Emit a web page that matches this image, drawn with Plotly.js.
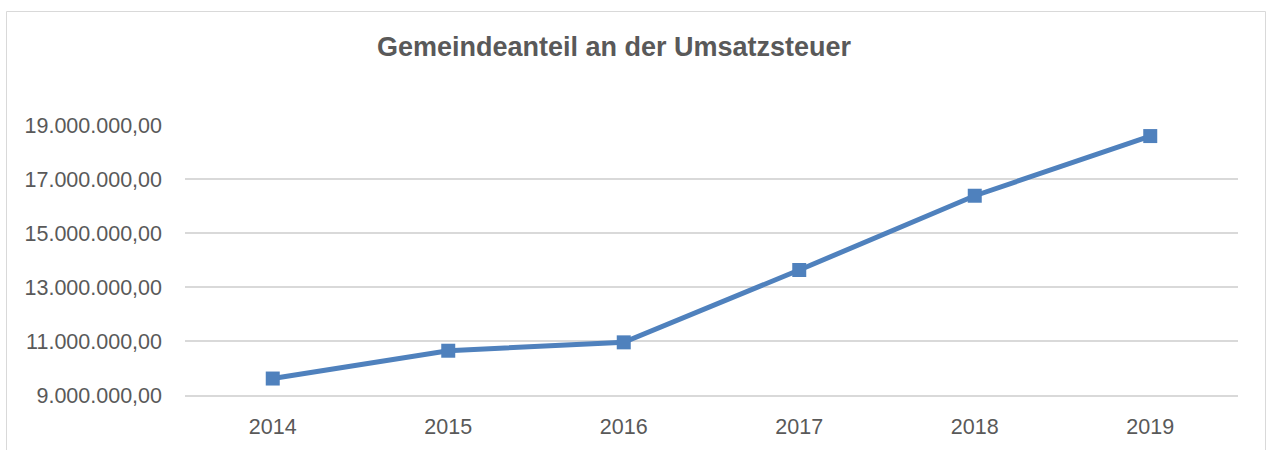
<!DOCTYPE html>
<html>
<head>
<meta charset="utf-8">
<script src="https://cdn.plot.ly/plotly-3.0.1.min.js"></script>
<style>
  html, body { margin: 0; padding: 0; background: #ffffff; }
  #chart { width: 1267px; height: 450px; }
</style>
</head>
<body>
<div id="chart"></div>
<script>
const years = ["2014", "2015", "2016", "2017", "2018", "2019"];
const values = [9610000, 10640000, 10950000, 13630000, 16380000, 18590000];
const yTicks = [9000000, 11000000, 13000000, 15000000, 17000000, 19000000];
const chartTitle = "Gemeindeanteil an der Umsatzsteuer";

const trace = {
  x: years,
  y: values,
  type: "scatter",
  mode: "lines+markers",
  line: { color: "#4f81bd", width: 5 },
  marker: { symbol: "square", size: 14, color: "#4f81bd" },
  hoverinfo: "x+y"
};

const layout = {
  width: 1267,
  height: 450,
  margin: { l: 185, r: 29, t: 125, b: 55, pad: 0 },
  paper_bgcolor: "#ffffff",
  plot_bgcolor: "#ffffff",
  separators: ",.",
  showlegend: false,
  font: { family: "Liberation Sans, Arial, sans-serif", color: "#595959", size: 21.5 },
  title: {
    text: "<b>" + chartTitle + "</b>",
    font: { family: "Liberation Sans, Arial, sans-serif", size: 27, color: "#595959" },
    x: 614 / 1267,
    xanchor: "center",
    xref: "container",
    y: 1 - 47 / 450,
    yanchor: "middle",
    yref: "container"
  },
  xaxis: {
    type: "category",
    range: [-0.5, 5.5],
    showgrid: false,
    zeroline: false,
    showline: true,
    linecolor: "#d9d9d9",
    linewidth: 1.5,
    ticks: "",
    ticklabelstandoff: 12,
    tickfont: { size: 21.5, color: "#595959" }
  },
  yaxis: {
    range: [9000000, 19000000],
    tickvals: yTicks,
    tickformat: ",.2f",
    showgrid: true,
    gridcolor: "#d9d9d9",
    gridwidth: 1.5,
    zeroline: false,
    showline: false,
    ticks: "",
    ticklabelstandoff: 22,
    tickfont: { size: 21.5, color: "#595959" }
  },
  shapes: [{
    type: "rect",
    xref: "paper", yref: "paper",
    x0: (6.5 - 185) / 1053, x1: (1265.5 - 185) / 1053,
    y0: (395 - 470) / 270, y1: (395 - 11.5) / 270,
    line: { color: "#d9d9d9", width: 1 },
    fillcolor: "rgba(0,0,0,0)",
    layer: "below"
  }]
};

Plotly.newPlot("chart", [trace], layout, { displayModeBar: false, staticPlot: true });
</script>
</body>
</html>
